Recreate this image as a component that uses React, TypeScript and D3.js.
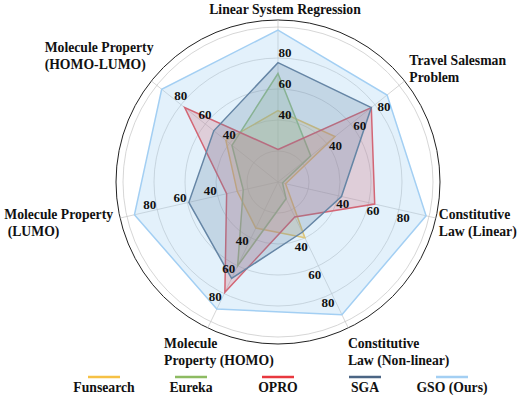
import * as d3 from "d3";
import React from "react";

const axes = [
  ["Linear System Regression"],
  ["Travel Salesman", "Problem"],
  ["Constitutive", "Law (Linear)"],
  ["Constitutive", "Law (Non-linear)"],
  ["Molecule", "Property (HOMO)"],
  ["Molecule Property", " (LUMO)"],
  ["Molecule Property", "(HOMO-LUMO)"],
];
const seriesNames = ["Funsearch", "Eureka", "OPRO", "SGA", "GSO (Ours)"];
const funsearch = [46, 47, 5, 40, 33, 27, 43];
const eureka = [70, 27, 3, 12, 60, 23, 38];
const opro = [21, 77, 64, 25, 79, 34, 77];
const sga = [77, 77, 42, 36, 69, 59, 53];
const gso = [98, 90, 98, 95, 91, 95, 96];
const gridLevels = [20, 40, 60, 80, 100];
const tickLabels = [40, 60, 80];

const colors = ["#F6C145", "#8DBB62", "#E8383F", "#4B6584", "#A3CFF3"];
// [dx, dy] of the first line relative to the polar anchor point
const labelOffsets = [
  [7, 0],
  [0, -12],
  [-3, 0],
  [-3, 15],
  [-41, 15],
  [-110, 0],
  [-102, -25],
];
const labelAnchor = ["middle", "start", "start", "start", "start", "start", "start"];

const W = 521;
const H = 395;
const cx = 278;
const cy = 182;
const serif = "Liberation Serif, Times New Roman, DejaVu Serif, serif";
const tickStyle = { fontFamily: serif, fontWeight: 700, fontSize: "13px" };
const labelStyle = { fontFamily: serif, fontWeight: 700, fontSize: "13.7px" };

export default function App() {
  const data = [funsearch, eureka, opro, sga, gso];
  const n = axes.length;
  const r = d3.scaleLinear().domain([0, 100]).range([0, 155]);
  const angle = (i: number) => (i * 2 * Math.PI) / n;
  const pt = (i: number, rad: number) => [rad * Math.sin(angle(i)), -rad * Math.cos(angle(i))];

  const radar = d3
    .lineRadial<number>()
    .angle((d, i) => angle(i))
    .radius((d) => r(d))
    .curve(d3.curveLinearClosed);

  const legendX = d3.scalePoint<string>().domain(seriesNames).range([104, 452]);

  return (
    <svg width={W} height={H} style={{ position: "absolute", left: 0, top: 0 }}>
      <rect width={W} height={H} fill="#fff" />
      <g transform={`translate(${cx},${cy})`}>
        {gridLevels.map((v) => (
          <circle key={v} r={r(v)} fill="none" stroke="#c4c4c4" strokeWidth={0.7} />
        ))}
        <circle r={162} fill="none" stroke="#222" strokeWidth={1} />
        {axes.map((a, i) => {
          const [x, y] = pt(i, 162);
          return <line key={i} x1={0} y1={0} x2={x} y2={y} stroke="#c4c4c4" strokeWidth={0.7} />;
        })}
        {data.map((d, k) => (
          <path
            key={k}
            d={radar(d) || ""}
            fill={colors[k]}
            fillOpacity={k === 4 ? 0.3 : 0.25}
            stroke={colors[k]}
            strokeWidth={1.5}
          />
        ))}
        {axes.map((a, i) =>
          tickLabels.map((v) => {
            const [x, y] = pt(i, r(v) + 6);
            const tx = Math.cos(angle(i)) * 7;
            const ty = Math.sin(angle(i)) * 7;
            return (
              <text
                key={`${i}-${v}`}
                x={x + tx}
                y={y + ty}
                textAnchor="middle"
                dominantBaseline="central"
                style={tickStyle}
                fill="#111"
              >
                {v}
              </text>
            );
          })
        )}
        {axes.map((lines, i) => {
          const [x, y] = pt(i, 168);
          const [dx, dy] = labelOffsets[i];
          return (
            <text key={i} x={x + dx} y={y + dy} textAnchor={labelAnchor[i]} style={labelStyle} fill="#111">
              {lines.map((l, j) => (
                <tspan key={j} x={x + dx} dy={j === 0 ? 0 : 17} style={{ whiteSpace: "pre" }}>
                  {l}
                </tspan>
              ))}
            </text>
          );
        })}
      </g>
      <g>
        {seriesNames.map((s, k) => {
          const x = legendX(s) || 0;
          return (
            <g key={s}>
              <line x1={x - 16} x2={x + 16} y1={377} y2={377} stroke={colors[k]} strokeWidth={2.5} />
              <text x={x} y={392} textAnchor="middle" style={labelStyle} fill="#111">
                {s}
              </text>
            </g>
          );
        })}
      </g>
    </svg>
  );
}
